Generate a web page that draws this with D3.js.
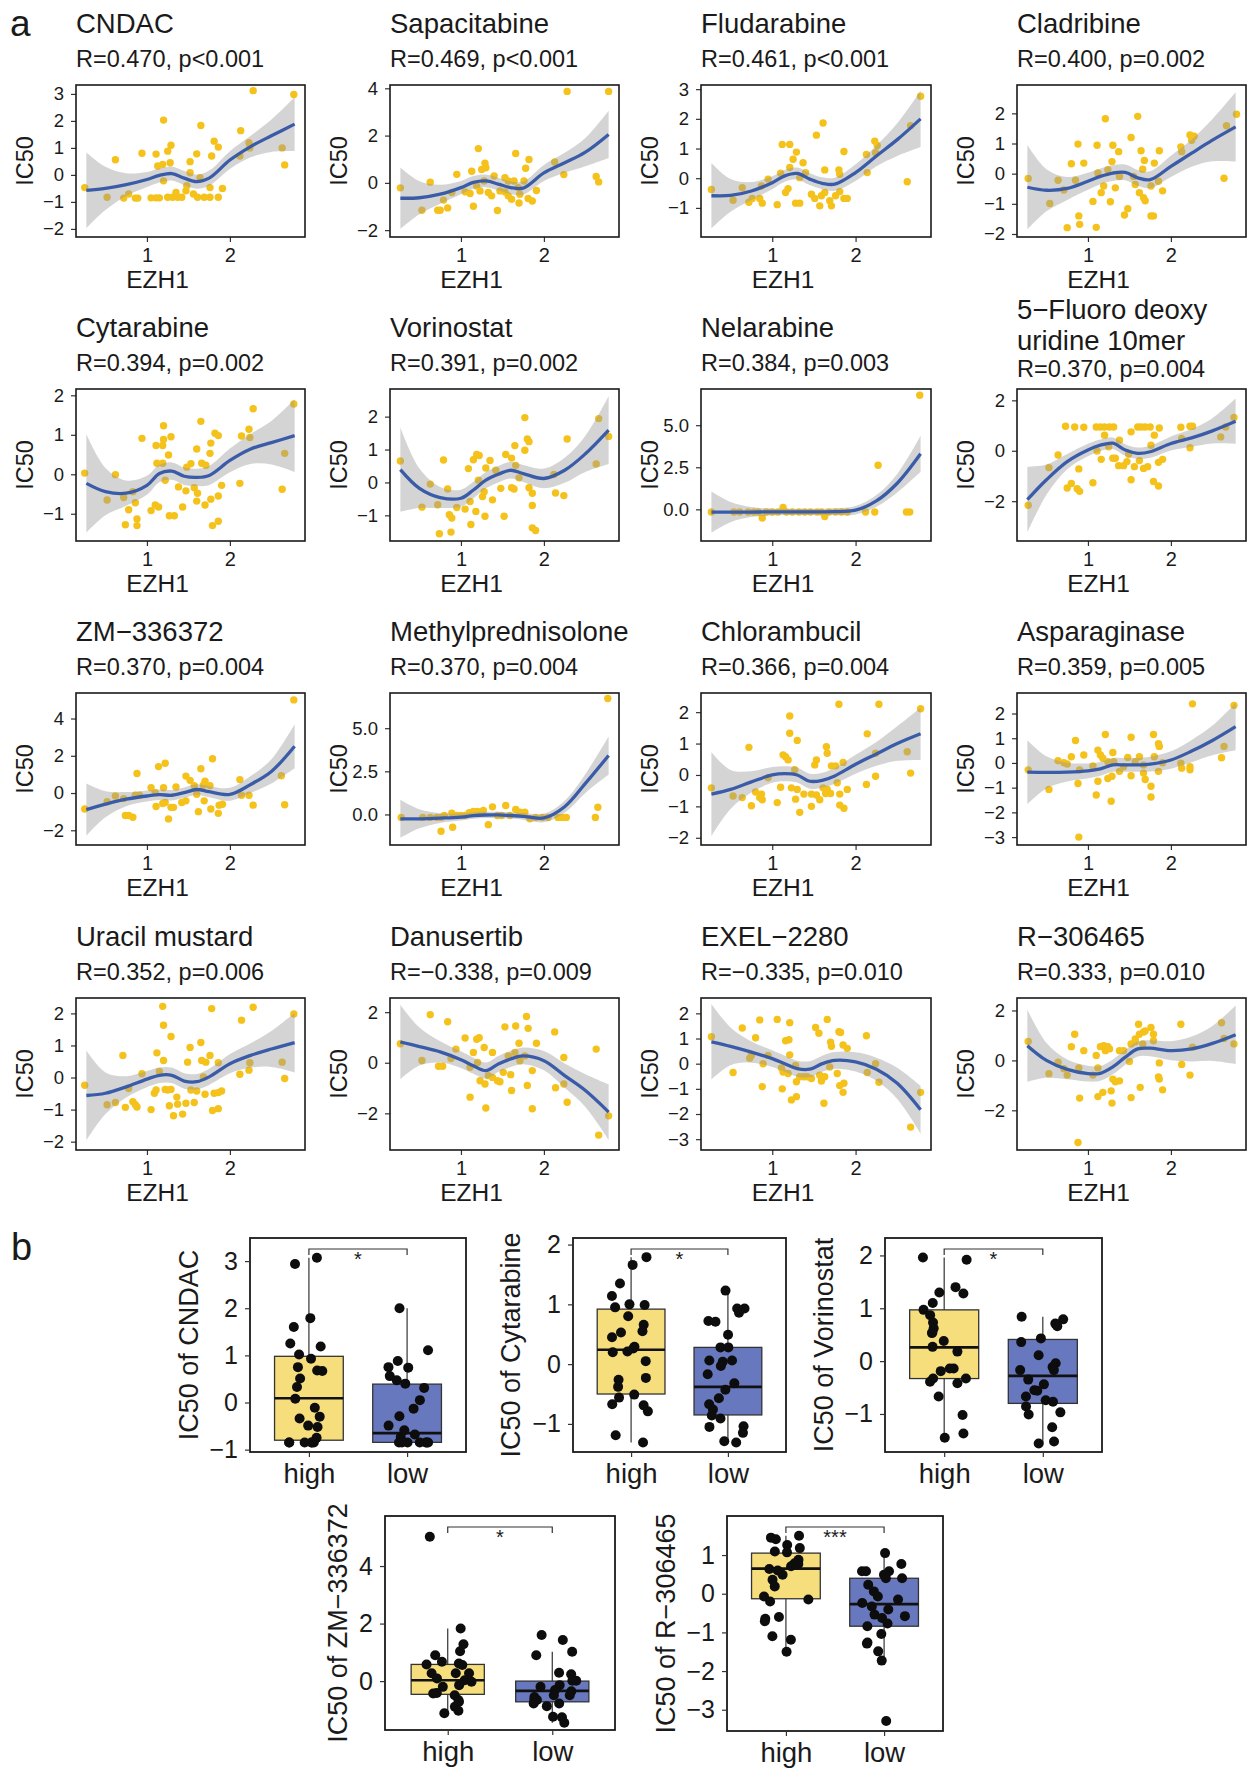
<!DOCTYPE html>
<html><head><meta charset="utf-8">
<script src="https://cdn.jsdelivr.net/npm/d3@7"></script>
<style>body{margin:0;background:#fff;}</style>
</head><body><script>
// ---------------- DATA ----------------
const smoothX = [0.27,0.5,0.75,1.0,1.15,1.3,1.45,1.6,1.75,2.0,2.25,2.5,2.78];

const drugNames = ["CNDAC","Sapacitabine","Fludarabine","Cladribine","Cytarabine","Vorinostat","Nelarabine","5\u2212Fluoro deoxy|uridine 10mer","ZM\u2212336372","Methylprednisolone","Chlorambucil","Asparaginase","Uracil mustard","Danusertib","EXEL\u22122280","R\u2212306465"];
const statLabels = ["R=0.470, p<0.001","R=0.469, p<0.001","R=0.461, p<0.001","R=0.400, p=0.002","R=0.394, p=0.002","R=0.391, p=0.002","R=0.384, p=0.003","R=0.370, p=0.004","R=0.370, p=0.004","R=0.370, p=0.004","R=0.366, p=0.004","R=0.359, p=0.005","R=0.352, p=0.006","R=\u22120.338, p=0.009","R=\u22120.335, p=0.010","R=0.333, p=0.010"];
const yDomains = [[-2.3,3.33],[-2.29,4.14],[-1.98,3.14],[-2.1,2.94],[-1.69,2.16],[-1.78,2.84],[-1.88,7.15],[-3.58,2.45],[-2.79,5.37],[-1.77,7.04],[-2.23,2.61],[-3.32,2.83],[-2.26,2.48],[-3.45,2.56],[-3.43,2.61],[-3.59,2.5]];
const yTicks = [[-2,-1,0,1,2,3],[-2,0,2,4],[-1,0,1,2,3],[-2,-1,0,1,2],[-1,0,1,2],[-1,0,1,2],[0,2.5,5],[-2,0,2],[-2,0,2,4],[0,2.5,5],[-2,-1,0,1,2],[-3,-2,-1,0,1,2],[-2,-1,0,1,2],[-2,0,2],[-3,-2,-1,0,1,2],[-2,0,2]];
const xTicks = [1,2];

const ptsCNDAC=[[0.25,-0.47],[0.52,-0.83],[0.62,0.56],[0.72,-0.86],[0.78,-0.71],[0.86,-0.86],[0.89,-0.86],[0.94,0.8],[1.05,-0.85],[1.11,-0.85],[1.15,-0.85],[1.11,0.77],[1.2,2.03],[1.13,0.33],[1.19,0.39],[1.25,0.88],[1.29,1.1],[1.28,0.45],[1.2,-0.22],[1.25,-0.83],[1.31,-0.83],[1.37,-0.83],[1.42,-0.83],[1.35,-0.65],[1.47,-0.59],[1.48,-0.4],[1.52,0.49],[1.52,0.08],[1.6,0.78],[1.65,1.83],[1.56,-0.71],[1.61,-0.83],[1.69,-0.83],[1.76,-0.83],[1.86,-0.83],[1.64,-0.1],[1.76,-0.47],[1.78,0.7],[1.81,1.25],[1.86,1.03],[1.91,-0.5],[2.13,1.64],[2.12,0.7],[2.23,1.19],[2.28,3.12],[2.24,1.0],[2.63,1.0],[2.66,0.37],[2.77,2.98]];
const ptsSapa=[[0.27,-0.21],[0.53,-1.16],[0.63,0.03],[0.72,-1.16],[0.75,-1.16],[0.79,-0.73],[0.84,-1.06],[0.89,-0.41],[0.95,0.36],[1.05,-0.38],[1.11,-0.45],[1.13,0.49],[1.15,-0.99],[1.21,1.45],[1.19,-0.13],[1.23,-0.34],[1.25,0.57],[1.29,0.83],[1.3,0.64],[1.28,0.08],[1.33,-0.41],[1.37,-0.55],[1.44,-1.17],[1.4,0.29],[1.47,-0.34],[1.53,0.22],[1.57,0.08],[1.53,-0.38],[1.57,-0.55],[1.61,-0.69],[1.66,1.24],[1.64,0.08],[1.69,-0.2],[1.71,-0.48],[1.7,-0.85],[1.76,0.08],[1.78,0.62],[1.82,0.99],[1.81,-0.66],[1.86,-0.77],[1.91,-0.32],[2.13,0.88],[2.24,0.35],[2.28,3.87],[2.63,0.27],[2.66,0.04],[2.78,3.87]];
const ptsFluda=[[0.27,-0.38],[0.53,-0.74],[0.64,-0.32],[0.72,-0.81],[0.76,-0.68],[0.85,-0.68],[0.88,-0.84],[0.87,-0.26],[0.95,-0.03],[1.06,-0.89],[1.12,1.14],[1.21,1.14],[1.16,-0.48],[1.19,-0.35],[1.1,0.17],[1.21,0.36],[1.28,-0.84],[1.33,-0.84],[1.25,0.64],[1.29,0.88],[1.37,0.52],[1.33,0.02],[1.4,0.19],[1.47,-0.54],[1.51,-0.68],[1.57,-0.93],[1.53,1.45],[1.61,1.86],[1.59,-0.59],[1.63,-0.48],[1.63,0.28],[1.69,-0.76],[1.71,-0.93],[1.76,-0.59],[1.81,-0.45],[1.86,-0.68],[1.9,-0.68],[1.8,0.28],[1.81,0.13],[1.86,0.9],[2.13,0.8],[2.14,0.19],[2.23,1.25],[2.26,1.1],[2.24,0.86],[2.62,-0.12],[2.66,1.77],[2.78,2.76]];
const ptsCladri=[[0.28,-0.16],[0.54,-0.99],[0.64,-0.22],[0.71,-0.54],[0.75,-1.79],[0.8,0.33],[0.85,-0.22],[0.88,0.98],[0.89,-1.4],[0.9,-1.68],[0.95,0.35],[1.06,-0.92],[1.1,-1.78],[1.11,0.94],[1.12,0.02],[1.16,-0.63],[1.21,1.82],[1.19,-0.41],[1.24,0.13],[1.27,-0.93],[1.3,0.94],[1.29,0.4],[1.33,-0.47],[1.37,0.73],[1.38,-0.09],[1.44,-1.37],[1.48,-1.16],[1.52,1.2],[1.55,-0.09],[1.57,-0.36],[1.6,1.9],[1.62,-0.63],[1.67,-0.8],[1.69,-0.9],[1.64,0.76],[1.68,0.44],[1.66,0.15],[1.76,-1.4],[1.79,-1.4],[1.76,-0.41],[1.8,0.35],[1.86,0.76],[1.85,-0.25],[1.9,-0.57],[2.12,0.89],[2.13,0.73],[2.23,1.28],[2.28,1.24],[2.25,1.11],[2.64,-0.15],[2.67,1.59],[2.79,1.97]];
const ptsCyta=[[0.25,0.03],[0.52,-0.65],[0.62,-0.01],[0.72,-0.59],[0.74,-1.28],[0.78,-0.9],[0.83,-0.44],[0.86,-0.72],[0.88,-1.13],[0.88,-1.3],[0.94,0.91],[1.05,-0.92],[1.1,-0.78],[1.14,-0.83],[1.11,0.73],[1.19,0.73],[1.12,0.28],[1.19,0.28],[1.2,1.23],[1.2,0.88],[1.22,-0.15],[1.26,0.49],[1.29,0.95],[1.27,-1.05],[1.33,-1.05],[1.38,-0.32],[1.43,-0.83],[1.47,-0.42],[1.48,0.18],[1.53,0.27],[1.57,-0.34],[1.6,0.64],[1.61,-0.48],[1.6,-0.68],[1.65,1.34],[1.66,0.28],[1.7,-0.78],[1.71,0.23],[1.76,0.53],[1.77,-0.63],[1.77,0.79],[1.79,-1.3],[1.82,1.04],[1.86,0.98],[1.86,-0.55],[1.86,-1.19],[1.9,-0.28],[2.12,-0.23],[2.14,0.97],[2.23,1.14],[2.24,0.93],[2.28,1.66],[2.63,-0.38],[2.66,0.53],[2.77,1.78]];
const ptsVori=[[0.27,0.65],[0.53,-0.75],[0.63,-0.05],[0.72,-0.68],[0.74,-1.56],[0.79,0.68],[0.84,-0.2],[0.86,-0.98],[0.89,-1.08],[0.88,-1.51],[0.95,-0.76],[1.05,-0.81],[1.09,0.42],[1.12,-1.28],[1.11,-0.58],[1.15,0.69],[1.19,0.85],[1.22,0.82],[1.18,-0.88],[1.21,0.07],[1.26,-0.43],[1.28,-0.28],[1.29,-1.03],[1.3,0.44],[1.35,0.67],[1.38,-0.53],[1.42,0.37],[1.48,-0.18],[1.52,-1.03],[1.54,0.85],[1.61,0.74],[1.61,-0.16],[1.64,-0.2],[1.65,1.12],[1.66,0.52],[1.7,0.14],[1.77,1.97],[1.77,0.98],[1.8,1.32],[1.82,1.24],[1.82,-0.16],[1.86,-0.33],[1.86,-0.7],[1.86,-1.38],[1.9,-1.46],[2.12,0.24],[2.14,-0.32],[2.24,-0.4],[2.28,1.32],[2.63,0.56],[2.66,1.94],[2.78,1.4]];
const ptsNela=[[0.27,-0.16],[0.54,-0.16],[0.61,-0.16],[0.71,-0.16],[0.78,-0.16],[0.83,-0.16],[0.88,-0.51],[0.93,-0.16],[1.0,-0.16],[1.07,-0.16],[1.13,0.12],[1.17,-0.16],[1.24,-0.16],[1.32,-0.16],[1.39,-0.16],[1.46,-0.16],[1.54,-0.16],[1.59,-0.16],[1.63,-0.43],[1.68,-0.16],[1.76,-0.16],[1.83,-0.16],[1.9,-0.16],[2.12,-0.16],[2.23,-0.16],[2.27,2.62],[2.61,-0.16],[2.65,-0.16],[2.77,6.78]];
const ptsFdU=[[0.28,-2.16],[0.53,-0.67],[0.64,-0.17],[0.73,0.97],[0.75,-1.48],[0.8,-1.3],[0.84,0.94],[0.87,-1.51],[0.9,-1.61],[0.89,-0.72],[0.95,0.93],[1.06,-1.27],[1.1,0.94],[1.15,0.94],[1.2,0.94],[1.26,0.94],[1.31,0.94],[1.11,-0.01],[1.16,-0.34],[1.2,0.62],[1.25,0.16],[1.3,-0.3],[1.33,-0.3],[1.37,-0.59],[1.43,-0.59],[1.47,-0.43],[1.38,0.42],[1.49,-0.14],[1.52,0.75],[1.52,-1.15],[1.56,-0.63],[1.6,0.94],[1.64,0.94],[1.69,0.94],[1.75,0.94],[1.62,-0.39],[1.67,-0.7],[1.72,-0.63],[1.76,0.22],[1.79,-1.22],[1.85,-1.4],[1.8,0.62],[1.86,0.9],[1.85,-0.46],[1.9,-0.34],[2.12,0.93],[2.23,0.97],[2.26,0.97],[2.13,0.49],[2.23,0.12],[2.6,0.55],[2.66,0.94],[2.76,1.32]];
const ptsZM=[[0.25,-0.86],[0.52,-0.46],[0.62,-0.16],[0.72,-0.3],[0.74,-1.21],[0.78,-1.21],[0.83,-1.3],[0.86,-0.12],[0.91,-0.12],[0.88,1.05],[1.05,0.28],[1.1,0.02],[1.11,-0.72],[1.14,1.42],[1.19,-0.56],[1.22,-0.51],[1.2,0.28],[1.22,1.6],[1.26,-1.39],[1.29,-0.77],[1.32,-0.77],[1.35,0.32],[1.42,-0.51],[1.47,-0.42],[1.47,0.91],[1.52,0.68],[1.57,0.4],[1.6,-0.07],[1.62,-1.0],[1.65,1.3],[1.69,-0.42],[1.7,0.63],[1.68,0.42],[1.76,0.4],[1.77,-0.86],[1.79,1.84],[1.86,-1.09],[1.87,-0.65],[1.91,-0.6],[2.12,0.72],[2.14,-0.12],[2.23,-0.12],[2.28,-0.65],[2.62,0.93],[2.66,-0.63],[2.77,5.0]];
const ptsMethyl=[[0.28,-0.17],[0.54,-0.17],[0.63,-0.17],[0.71,-0.17],[0.76,-0.17],[0.76,-0.97],[0.8,-0.06],[0.89,0.08],[0.9,-0.74],[0.95,-0.06],[1.0,-0.06],[1.05,-0.06],[1.1,0.1],[1.15,0.17],[1.2,0.17],[1.27,0.23],[1.33,-0.59],[1.38,0.44],[1.44,-0.06],[1.49,-0.06],[1.54,0.52],[1.59,-0.06],[1.66,0.29],[1.71,0.13],[1.77,0.13],[1.83,-0.25],[1.9,-0.17],[1.98,-0.17],[2.05,-0.17],[2.17,-0.17],[2.22,-0.17],[2.27,-0.17],[2.62,-0.17],[2.65,0.42],[2.77,6.72]];
const ptsChlor=[[0.27,-0.41],[0.53,-0.67],[0.64,-0.72],[0.72,0.88],[0.75,-0.98],[0.8,-0.54],[0.85,-0.72],[0.88,-0.79],[0.87,-0.61],[0.95,-0.09],[1.06,-0.88],[1.1,-0.39],[1.13,0.64],[1.16,0.58],[1.21,1.88],[1.21,1.33],[1.19,0.48],[1.23,-0.41],[1.27,0.17],[1.28,-0.77],[1.3,1.1],[1.3,-0.46],[1.33,-1.19],[1.38,-0.61],[1.47,-1.0],[1.47,-0.61],[1.53,-0.64],[1.57,-0.79],[1.51,0.32],[1.53,0.48],[1.61,-0.41],[1.64,-0.59],[1.66,-0.46],[1.65,0.9],[1.66,0.69],[1.7,-0.59],[1.71,0.29],[1.76,0.29],[1.85,0.4],[1.8,2.25],[1.78,-0.25],[1.81,-0.61],[1.81,-0.96],[1.86,-1.06],[1.9,-0.46],[2.13,-0.3],[2.14,1.31],[2.24,-0.04],[2.24,0.69],[2.28,2.25],[2.62,0.74],[2.66,0.06],[2.78,2.11]];
const ptsAspar=[[0.28,-0.28],[0.53,-1.07],[0.64,0.09],[0.71,0.01],[0.75,-0.04],[0.8,0.25],[0.85,0.91],[0.88,-0.83],[0.89,-3.0],[0.9,-0.28],[0.95,0.32],[1.06,-0.12],[1.1,-1.3],[1.12,0.52],[1.12,-0.74],[1.15,0.32],[1.18,0.19],[1.21,1.15],[1.24,-0.63],[1.28,-1.55],[1.29,-0.54],[1.3,0.42],[1.24,0.05],[1.31,0.05],[1.38,-0.34],[1.43,-0.15],[1.48,0.22],[1.52,1.04],[1.52,-0.52],[1.57,0.05],[1.62,0.25],[1.67,-0.08],[1.67,-0.41],[1.69,-0.67],[1.76,-0.94],[1.76,-1.38],[1.79,1.15],[1.85,0.78],[1.86,0.67],[1.85,-0.34],[1.8,0.25],[1.9,0.01],[2.12,-0.01],[2.13,-0.21],[2.23,-0.15],[2.23,-0.28],[2.26,2.39],[2.61,0.21],[2.64,0.67],[2.76,2.33]];
const ptsUracil=[[0.25,-0.24],[0.52,-0.85],[0.62,-0.78],[0.71,0.69],[0.74,-0.93],[0.78,-0.34],[0.83,-0.75],[0.86,-0.85],[0.88,-0.92],[0.94,0.12],[1.05,-1.0],[1.09,-0.49],[1.11,-0.39],[1.12,0.77],[1.15,0.19],[1.19,2.22],[1.2,1.63],[1.2,0.53],[1.22,-0.37],[1.25,-0.39],[1.29,-0.37],[1.29,1.28],[1.27,-0.88],[1.32,-1.19],[1.36,-0.61],[1.37,-0.83],[1.43,-1.14],[1.47,-0.8],[1.49,0.48],[1.52,0.94],[1.53,-0.39],[1.6,-0.42],[1.57,-0.78],[1.65,1.09],[1.66,0.53],[1.71,0.48],[1.68,0.02],[1.7,-0.52],[1.76,0.69],[1.78,2.15],[1.79,-1.03],[1.81,-0.49],[1.86,-0.47],[1.9,-0.42],[1.86,0.46],[1.86,-0.97],[2.12,0.1],[2.14,1.79],[2.23,0.23],[2.24,0.46],[2.28,2.19],[2.63,0.48],[2.66,-0.03],[2.77,1.98]];
const ptsDanu=[[0.27,0.75],[0.53,0.09],[0.63,1.9],[0.73,-0.14],[0.78,-0.14],[0.84,1.62],[0.88,0.17],[0.94,0.54],[1.05,0.98],[1.11,-1.36],[1.11,-0.18],[1.15,0.41],[1.19,0.93],[1.22,0.99],[1.2,0.01],[1.23,-0.71],[1.28,0.6],[1.29,-0.84],[1.3,-1.79],[1.33,-0.51],[1.38,-0.58],[1.44,-0.71],[1.47,-0.75],[1.38,0.41],[1.51,-0.38],[1.53,1.42],[1.57,0.27],[1.6,-0.47],[1.61,-1.1],[1.66,1.45],[1.7,0.77],[1.65,0.41],[1.71,0.08],[1.77,0.27],[1.79,1.83],[1.81,1.36],[1.8,-0.9],[1.86,-0.31],[1.86,-1.82],[1.91,0.77],[2.13,1.22],[2.14,-0.99],[2.24,0.21],[2.24,-0.84],[2.28,-1.56],[2.63,0.54],[2.66,-2.86],[2.78,-2.1]];
const ptsExel=[[0.27,1.07],[0.53,-0.35],[0.64,1.42],[0.73,0.22],[0.75,0.33],[0.8,1.03],[0.85,1.74],[0.88,-0.91],[0.89,0.0],[0.95,0.33],[1.06,1.76],[1.11,-0.17],[1.13,-0.33],[1.12,-1.0],[1.16,0.91],[1.2,0.95],[1.21,1.63],[1.21,0.35],[1.19,-0.39],[1.23,-1.44],[1.29,-1.31],[1.28,-0.07],[1.29,-0.72],[1.33,-0.52],[1.38,-0.52],[1.42,-0.52],[1.47,-0.59],[1.52,1.44],[1.56,1.21],[1.57,-0.46],[1.59,-0.69],[1.63,-0.52],[1.62,-1.57],[1.66,1.76],[1.69,-0.13],[1.7,0.85],[1.71,0.69],[1.78,-0.39],[1.81,-0.87],[1.86,-0.78],[1.8,1.27],[1.82,1.24],[1.85,0.74],[1.9,0.61],[1.85,-1.14],[2.13,1.11],[2.14,-0.35],[2.24,0.0],[2.28,-0.74],[2.66,-2.52],[2.78,-1.14]];
const ptsR306=[[0.28,0.76],[0.53,-0.53],[0.64,-0.07],[0.71,-0.33],[0.75,-0.59],[0.8,0.55],[0.84,1.05],[0.88,-3.29],[0.89,-0.3],[0.9,-1.51],[0.95,0.39],[1.06,-0.59],[1.1,0.2],[1.12,-1.45],[1.12,-0.3],[1.15,0.55],[1.19,0.59],[1.21,0.39],[1.24,0.55],[1.26,0.46],[1.18,-1.28],[1.28,-1.22],[1.29,-1.71],[1.3,-0.75],[1.33,-0.86],[1.38,-0.82],[1.38,0.39],[1.43,0.39],[1.5,-0.04],[1.52,-1.49],[1.52,0.66],[1.57,0.75],[1.57,0.86],[1.61,1.45],[1.62,1.05],[1.67,1.14],[1.69,1.18],[1.76,1.32],[1.79,1.05],[1.63,-1.08],[1.66,0.66],[1.79,0.79],[1.86,-0.1],[1.85,-0.66],[1.86,-0.75],[1.9,-1.18],[2.12,1.45],[2.13,-0.16],[2.23,-0.59],[2.26,0.53],[2.61,1.51],[2.64,0.88],[2.76,0.66]];

// loess fit (at smoothX) and half-width of the confidence band
const fitCNDAC=[-0.57,-0.5,-0.36,-0.17,-0.02,0.05,-0.12,-0.25,-0.12,0.55,1.05,1.45,1.88];
const seCNDAC=[1.4,0.8,0.42,0.28,0.26,0.26,0.26,0.26,0.28,0.33,0.4,0.6,1.0];
const fitSapa=[-0.65,-0.63,-0.48,-0.2,0.02,0.08,-0.05,-0.2,-0.22,0.42,0.85,1.3,2.05];
const seSapa=[1.3,0.7,0.4,0.28,0.27,0.27,0.27,0.27,0.28,0.34,0.42,0.6,1.0];
const fitFluda=[-0.59,-0.58,-0.43,-0.15,0.08,0.16,-0.03,-0.17,-0.2,0.19,0.75,1.3,2.0];
const seFluda=[1.1,0.55,0.3,0.22,0.2,0.2,0.2,0.2,0.22,0.28,0.35,0.55,0.95];
const fitCladri=[-0.45,-0.55,-0.49,-0.25,-0.09,0.02,0.04,-0.14,-0.2,0.24,0.68,1.11,1.55];
const seCladri=[1.4,0.7,0.38,0.28,0.26,0.26,0.26,0.26,0.28,0.35,0.45,0.7,1.15];
const fitCyta=[-0.23,-0.44,-0.48,-0.28,0.02,0.08,-0.05,-0.08,-0.03,0.35,0.64,0.8,0.98];
const seCyta=[1.25,0.6,0.32,0.24,0.22,0.22,0.22,0.22,0.24,0.3,0.38,0.55,0.92];
const fitVori=[0.39,-0.18,-0.46,-0.48,-0.23,0.07,0.25,0.37,0.27,0.12,0.37,0.87,1.59];
const seVori=[1.28,0.6,0.32,0.26,0.25,0.25,0.25,0.25,0.26,0.3,0.38,0.55,1.03];
const fitNela=[-0.16,-0.16,-0.16,-0.15,-0.15,-0.15,-0.15,-0.15,-0.14,-0.05,0.5,1.55,3.3];
const seNela=[1.22,0.6,0.3,0.2,0.18,0.18,0.18,0.18,0.2,0.25,0.35,0.55,1.07];
const fitFdU=[-1.94,-1.15,-0.43,0.03,0.22,0.3,0.03,-0.1,-0.04,0.29,0.51,0.79,1.17];
const seFdU=[1.3,0.6,0.3,0.25,0.23,0.23,0.23,0.23,0.24,0.28,0.35,0.5,0.9];
const fitZM=[-0.89,-0.6,-0.33,-0.16,-0.09,-0.12,0.02,0.19,0.07,-0.07,0.46,1.16,2.51];
const seZM=[1.4,0.7,0.38,0.3,0.28,0.28,0.28,0.28,0.3,0.35,0.45,0.65,1.18];
const fitMethyl=[-0.25,-0.25,-0.21,-0.15,-0.07,-0.03,-0.02,-0.06,-0.11,-0.2,0.45,1.8,3.42];
const seMethyl=[1.1,0.55,0.28,0.2,0.18,0.18,0.18,0.18,0.2,0.25,0.35,0.55,1.1];
const fitChlor=[-0.61,-0.46,-0.22,0.0,0.04,0.0,-0.2,-0.17,-0.03,0.34,0.67,1.0,1.31];
const seChlor=[1.33,0.62,0.34,0.25,0.24,0.24,0.24,0.24,0.25,0.3,0.38,0.55,0.83];
const fitAspar=[-0.37,-0.38,-0.37,-0.32,-0.24,-0.08,-0.08,-0.08,-0.05,0.12,0.48,0.91,1.47];
const seAspar=[1.29,0.65,0.38,0.3,0.28,0.28,0.28,0.28,0.3,0.35,0.45,0.6,0.96];
const fitUracil=[-0.56,-0.49,-0.29,-0.05,0.07,0.07,-0.11,-0.13,0.02,0.43,0.69,0.89,1.09];
const seUracil=[1.4,0.65,0.33,0.25,0.24,0.24,0.24,0.24,0.25,0.3,0.38,0.56,0.93];
const fitDanu=[0.82,0.64,0.43,0.12,-0.12,-0.31,-0.05,0.15,0.27,0.08,-0.51,-1.1,-1.95];
const seDanu=[1.47,0.75,0.42,0.33,0.32,0.32,0.32,0.32,0.33,0.38,0.48,0.65,1.1];
const fitExel=[0.87,0.69,0.46,0.2,0.0,-0.2,-0.22,0.0,0.13,0.07,-0.22,-0.78,-1.83];
const seExel=[1.5,0.75,0.42,0.33,0.32,0.32,0.32,0.32,0.33,0.38,0.46,0.62,0.95];
const fitR306=[0.59,0.0,-0.36,-0.53,-0.52,-0.26,0.13,0.46,0.49,0.39,0.46,0.68,1.03];
const seR306=[1.45,0.7,0.4,0.32,0.3,0.3,0.3,0.3,0.32,0.38,0.5,0.7,1.17];

// panel b : IC50 values of high / low EZH1 groups and box statistics [lower whisker, Q1, median, Q3, upper whisker]
const groups = ["high","low"];
const boxDrugs = ["CNDAC","Cytarabine","Vorinostat","ZM\u2212336372","R\u2212306465"];
const sigLabels = ["*","*","*","*","***"];
const cndacHigh=[3.07,2.94,1.79,1.6,1.25,1.19,1.02,0.93,0.75,0.68,0.67,0.51,0.33,0.08,-0.11,-0.3,-0.34,-0.49,-0.52,-0.75,-0.85,-0.85,-0.85,-0.85,-0.85,-0.85];
const cndacLow=[2.0,1.11,0.88,0.75,0.74,0.56,0.47,0.4,0.31,0.05,-0.13,-0.29,-0.49,-0.59,-0.68,-0.73,-0.85,-0.85,-0.85,-0.85,-0.85,-0.85,-0.85];
const cytaHigh=[1.79,1.66,1.35,1.14,1.0,0.99,0.95,0.8,0.66,0.55,0.53,0.45,0.29,0.26,0.21,0.2,0.05,-0.23,-0.26,-0.38,-0.51,-0.56,-0.67,-0.69,-0.79,-1.19,-1.31];
const cytaLow=[1.23,0.93,0.93,0.86,0.72,0.71,0.49,0.28,0.28,0.06,0.06,0.04,-0.03,-0.17,-0.32,-0.43,-0.57,-0.67,-0.76,-0.86,-0.91,-1.04,-1.05,-1.15,-1.29,-1.31];
const voriHigh=[1.96,1.92,1.4,1.3,1.28,1.1,0.97,0.87,0.73,0.62,0.54,0.53,0.38,0.27,0.18,-0.14,-0.14,-0.19,-0.33,-0.33,-0.39,-0.42,-0.67,-1.02,-1.37,-1.45];
const voriLow=[0.84,0.79,0.71,0.66,0.43,0.36,0.11,-0.04,-0.11,-0.17,-0.17,-0.35,-0.44,-0.55,-0.56,-0.67,-0.74,-0.77,-0.86,-0.97,-1.01,-1.25,-1.52,-1.56];
const zmHigh=[5.02,1.83,1.28,1.04,0.9,0.67,0.61,0.58,0.56,0.27,0.27,0.27,0.09,0.03,-0.02,-0.14,-0.2,-0.41,-0.43,-0.49,-0.66,-0.72,-0.89,-1.03,-1.12];
const zmLow=[1.6,1.43,1.02,0.9,0.29,0.24,0.01,0.01,-0.14,-0.2,-0.31,-0.35,-0.49,-0.49,-0.55,-0.66,-0.66,-0.78,-0.78,-0.87,-1.24,-1.26,-1.45];
const rHigh=[1.5,1.45,1.41,1.26,1.18,1.09,1.07,0.88,0.79,0.77,0.71,0.64,0.6,0.49,0.36,0.19,-0.07,-0.15,-0.2,-0.6,-0.65,-0.71,-1.1,-1.19,-1.5];
const rLow=[1.05,0.77,0.58,0.58,0.58,0.49,0.4,0.4,0.23,0.06,-0.07,-0.15,-0.24,-0.33,-0.41,-0.54,-0.58,-0.63,-0.77,-0.84,-1.04,-1.26,-1.29,-1.49,-1.73,-3.29];
const statsHigh=[[-0.85,-0.80,0.09,0.98,3.07],[-1.31,-0.5,0.24,0.92,1.79],[-1.45,-0.33,0.26,0.97,1.96],[-1.12,-0.46,0.03,0.58,1.83],[-1.5,-0.13,0.65,1.05,1.5]];
const statsLow=[[-0.85,-0.845,-0.65,0.39,2.0],[-1.31,-0.85,-0.38,0.28,1.23],[-1.56,-0.8,-0.28,0.41,0.84],[-1.45,-0.72,-0.34,0.0,1.02],[-1.73,-0.84,-0.27,0.4,1.05]];
const boxDomains=[[-1.05,3.49],[-1.47,2.11],[-1.72,2.33],[-1.7,5.74],[-3.55,2.01]];
const boxTicks=[[-1,0,1,2,3],[-1,0,1,2],[-1,0,1,2],[0,2,4],[-3,-2,-1,0,1]];

// ---------------- DRAWING ----------------
const FONT="'Liberation Sans', Arial, Helvetica, sans-serif";
const TXT="#1a1a1a";
const PT="#F4C21B", LINE="#3A5CA8", BAND="#999999";
const YEL="#F7DE7D", BLU="#6878BE";
const svg=d3.select("body").append("svg").attr("width",1247).attr("height",1776)
  .style("font-family",FONT);

const scatterPanels=[
  [ptsCNDAC,fitCNDAC,seCNDAC],[ptsSapa,fitSapa,seSapa],[ptsFluda,fitFluda,seFluda],[ptsCladri,fitCladri,seCladri],
  [ptsCyta,fitCyta,seCyta],[ptsVori,fitVori,seVori],[ptsNela,fitNela,seNela],[ptsFdU,fitFdU,seFdU],
  [ptsZM,fitZM,seZM],[ptsMethyl,fitMethyl,seMethyl],[ptsChlor,fitChlor,seChlor],[ptsAspar,fitAspar,seAspar],
  [ptsUracil,fitUracil,seUracil],[ptsDanu,fitDanu,seDanu],[ptsExel,fitExel,seExel],[ptsR306,fitR306,seR306]
].map((a,i)=>({name:drugNames[i],stat:statLabels[i],pts:a[0],fit:a[1],se:a[2],dom:yDomains[i],ticks:yTicks[i]}));

const colL=[76,390,701,1017], colR=[305,619,931,1246], rowT=[85,389,693,998], plotH=152;

function styleAxis(a,fs){
  a.select(".domain").remove();
  a.selectAll("text").attr("font-size",fs).attr("fill",TXT).attr("font-family",FONT);
  a.selectAll("line").attr("stroke","#333").attr("stroke-width",1.2);
}

svg.append("text").attr("x",10).attr("y",36).attr("font-size",37).attr("fill",TXT).text("a");
svg.append("text").attr("x",11).attr("y",1260).attr("font-size",38).attr("fill",TXT).text("b");

scatterPanels.forEach((p,i)=>{
  const c=i%4, r=Math.floor(i/4);
  const L=colL[c], R=colR[c], T=rowT[r], B=T+plotH;
  const x=d3.scaleLinear().domain([0.145,2.905]).range([L,R]);
  const y=d3.scaleLinear().domain(p.dom).range([B,T]);
  const g=svg.append("g");
  const cid="clip"+i;
  svg.append("clipPath").attr("id",cid).append("rect").attr("x",L).attr("y",T).attr("width",R-L).attr("height",B-T);
  const inner=g.append("g").attr("clip-path",`url(#${cid})`);
  inner.selectAll("circle").data(p.pts).join("circle")
    .attr("cx",d=>x(d[0])).attr("cy",d=>y(d[1])).attr("r",3.7).attr("fill",PT);
  const sm=smoothX.map((xv,k)=>({x:xv,f:p.fit[k],s:p.se[k]}));
  inner.append("path").datum(sm)
    .attr("d",d3.area().x(d=>x(d.x)).y0(d=>y(d.f-d.s)).y1(d=>y(d.f+d.s)).curve(d3.curveCatmullRom))
    .attr("fill",BAND).attr("fill-opacity",0.42);
  inner.append("path").datum(sm)
    .attr("d",d3.line().x(d=>x(d.x)).y(d=>y(d.f)).curve(d3.curveCatmullRom))
    .attr("fill","none").attr("stroke",LINE).attr("stroke-width",3.3);
  const fmt=p.ticks.some(t=>t%1!==0)?d3.format(".1f"):d3.format("d");
  const ax=g.append("g").attr("transform",`translate(0,${B})`)
    .call(d3.axisBottom(x).tickValues(xTicks).tickSize(5).tickPadding(6).tickFormat(d3.format("d")));
  styleAxis(ax,20);
  const ay=g.append("g").attr("transform",`translate(${L},0)`)
    .call(d3.axisLeft(y).tickValues(p.ticks).tickSize(5).tickPadding(7).tickFormat(fmt));
  styleAxis(ay,18.5);
  g.append("rect").attr("x",L).attr("y",T).attr("width",R-L).attr("height",B-T)
    .attr("fill","none").attr("stroke",TXT).attr("stroke-width",1.6);
  // titles
  const lines=p.name.split("|");
  if(lines.length===1){
    g.append("text").attr("x",L).attr("y",T-52).attr("font-size",27.5).attr("fill",TXT).text(lines[0]);
    g.append("text").attr("x",L).attr("y",T-18).attr("font-size",23.5).attr("fill",TXT).text(p.stat);
  } else {
    g.append("text").attr("x",L).attr("y",T-70).attr("font-size",27.5).attr("fill",TXT).text(lines[0]);
    g.append("text").attr("x",L).attr("y",T-39).attr("font-size",27.5).attr("fill",TXT).text(lines[1]);
    g.append("text").attr("x",L).attr("y",T-12).attr("font-size",23.5).attr("fill",TXT).text(p.stat);
  }
  g.append("text").attr("x",(L+R)/2-33).attr("y",B+51).attr("text-anchor","middle")
    .attr("font-size",24.5).attr("fill",TXT).text("EZH1");
  g.append("text").attr("transform",`translate(${L-52+8.5},${(T+B)/2}) rotate(-90)`)
    .attr("text-anchor","middle").attr("font-size",23.5).attr("fill",TXT).text("IC50");
});

// ---- panel b ----
const bHigh=[cndacHigh,cytaHigh,voriHigh,zmHigh,rHigh];
const bLow=[cndacLow,cytaLow,voriLow,zmLow,rLow];
const bL=[250,573,885,385,727], bR=[466,786,1102,615,943], bT=[1238,1238,1238,1516,1516], bB=[1452,1452,1452,1730,1731];
const titleOff=[62,63,62,48,62];

function mulberry32(a){return function(){a|=0;a=a+0x6D2B79F5|0;let t=Math.imul(a^a>>>15,1|a);t=t+Math.imul(t^t>>>7,61|t)^t;return((t^t>>>14)>>>0)/4294967296;};}

boxDrugs.forEach((name,i)=>{
  const L=bL[i],R=bR[i],T=bT[i],B=bB[i];
  const x=d3.scalePoint().domain(groups).range([L,R]).padding(0.6);
  const step=x.step(), bw=step*0.7;
  const y=d3.scaleLinear().domain(boxDomains[i]).range([B,T]);
  const g=svg.append("g");
  const sets=[[groups[0],statsHigh[i],YEL,bHigh[i]],[groups[1],statsLow[i],BLU,bLow[i]]];
  sets.forEach(([grp,s,col,vals],k)=>{
    const cx=x(grp);
    g.append("line").attr("x1",cx).attr("x2",cx).attr("y1",y(s[0])).attr("y2",y(s[4]))
      .attr("stroke","#333").attr("stroke-width",1.2);
    g.append("rect").attr("x",cx-bw/2).attr("y",y(s[3])).attr("width",bw).attr("height",y(s[1])-y(s[3]))
      .attr("fill",col).attr("stroke","#333").attr("stroke-width",1.3);
    g.append("line").attr("x1",cx-bw/2).attr("x2",cx+bw/2).attr("y1",y(s[2])).attr("y2",y(s[2]))
      .attr("stroke","#111").attr("stroke-width",2.6);
    const rnd=mulberry32(17+i*31+k*7);
    g.selectAll(null).data(vals).join("circle")
      .attr("cx",()=>cx+(rnd()*2-1)*step*0.23).attr("cy",d=>y(d)).attr("r",5).attr("fill","#0d0d0d");
  });
  // significance bracket
  const x1=x(groups[0]), x2=x(groups[1]), by=T+11;
  g.append("path").attr("d",`M${x1},${by+6}V${by}H${x2}V${by+6}`).attr("fill","none")
    .attr("stroke","#333").attr("stroke-width",1.2);
  g.append("text").attr("x",(x1+x2)/2).attr("y",by+17).attr("text-anchor","middle")
    .attr("font-size",20).attr("fill",TXT).text(sigLabels[i]);
  g.append("rect").attr("x",L).attr("y",T).attr("width",R-L).attr("height",B-T)
    .attr("fill","none").attr("stroke",TXT).attr("stroke-width",1.8);
  const ax=g.append("g").attr("transform",`translate(0,${B})`)
    .call(d3.axisBottom(x).tickSize(5).tickPadding(4));
  styleAxis(ax,27.5);
  ax.selectAll("text").attr("dy",null).attr("y",31);
  const ay=g.append("g").attr("transform",`translate(${L},0)`)
    .call(d3.axisLeft(y).tickValues(boxTicks[i]).tickSize(5).tickPadding(7).tickFormat(d3.format("d")));
  styleAxis(ay,25);
  g.append("text").attr("transform",`translate(${L-titleOff[i]+10},${(T+B)/2}) rotate(-90)`)
    .attr("text-anchor","middle").attr("font-size",27).attr("fill",TXT).text("IC50 of "+name);
});
</script></body></html>
